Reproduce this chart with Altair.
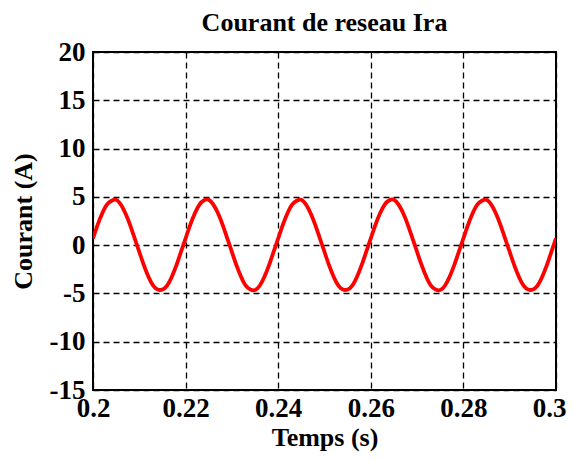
import altair as alt
import pandas as pd

# time samples (s), every 1 ms from 0.200 to 0.300
time_s = [round(0.200 + 0.001 * i, 3) for i in range(101)]

# current values (A)
current_a = [
    0.7, 2.1, 3.3, 4.2, 4.6, 4.7, 4.2, 3.3, 2.1, 0.7,
    -0.7, -2.1, -3.3, -4.2, -4.6, -4.6, -4.2, -3.3, -2.1, -0.7,
    0.7, 2.1, 3.3, 4.2, 4.65, 4.7, 4.2, 3.3, 2.1, 0.7,
    -0.7, -2.1, -3.3, -4.2, -4.6, -4.65, -4.2, -3.3, -2.1, -0.7,
    0.7, 2.1, 3.3, 4.2, 4.6, 4.7, 4.2, 3.3, 2.1, 0.7,
    -0.7, -2.1, -3.3, -4.2, -4.6, -4.6, -4.2, -3.3, -2.1, -0.7,
    0.7, 2.1, 3.3, 4.2, 4.65, 4.7, 4.2, 3.3, 2.1, 0.7,
    -0.7, -2.1, -3.3, -4.2, -4.6, -4.65, -4.2, -3.3, -2.1, -0.7,
    0.7, 2.1, 3.3, 4.2, 4.6, 4.7, 4.2, 3.3, 2.1, 0.7,
    -0.7, -2.1, -3.3, -4.2, -4.6, -4.6, -4.2, -3.3, -2.1, -0.7,
    0.7,
]

x_ticks = [0.2, 0.22, 0.24, 0.26, 0.28, 0.3]
y_ticks = [-15, -10, -5, 0, 5, 10, 15, 20]

df = pd.DataFrame({"t": time_s, "i": current_a})

FONT = "Liberation Serif"

chart = (
    alt.Chart(df)
    .mark_line(color="#ff0000", strokeWidth=3.8, interpolate="natural", clip=True)
    .encode(
        x=alt.X(
            "t:Q",
            scale=alt.Scale(domain=[0.2, 0.3], nice=False, zero=False),
            axis=alt.Axis(
                title="Temps (s)",
                values=x_ticks,
                labelExpr="datum.value == 0.2 ? '0.2' : datum.value == 0.3 ? '0.3' : format(datum.value, '.2f')",
                labelFlush=False,
                labelOffset={"condition": {"test": "datum.value >= 0.299", "value": -7}, "value": 0},
                labelPadding=5,
                titlePadding=3,
                titleFontSize=26,
            ),
        ),
        y=alt.Y(
            "i:Q",
            scale=alt.Scale(domain=[-15, 20], nice=False, zero=False),
            axis=alt.Axis(
                title="Courant (A)",
                values=y_ticks,
                labelExpr="toString(datum.value)",
                labelPadding=8,
                titlePadding=13,
                titleFontSize=26,
            ),
        ),
    )
    .properties(
        width=463,
        height=338,
        padding={"left": 85, "top": 44, "right": 10, "bottom": 62},
        autosize=alt.AutoSizeParams(type="none"),
        title=alt.Title("Courant de reseau Ira", fontSize=26, font=FONT, fontWeight="bold", color="#000000", offset=2),
    )
    .configure_view(stroke="#000000", strokeWidth=2)
    .configure_axis(
        grid=True,
        gridColor="#000000",
        gridDash=[6, 4],
        gridWidth=1.3,
        gridOpacity=1,
        domain=False,
        ticks=False,
        labelFont=FONT,
        labelFontSize=27,
        labelFontWeight="bold",
        labelColor="#000000",
        titleFont=FONT,
        titleFontWeight="bold",
        titleColor="#000000",
    )
)

chart.save("out.html", embed_options={"renderer": "svg", "actions": False})
